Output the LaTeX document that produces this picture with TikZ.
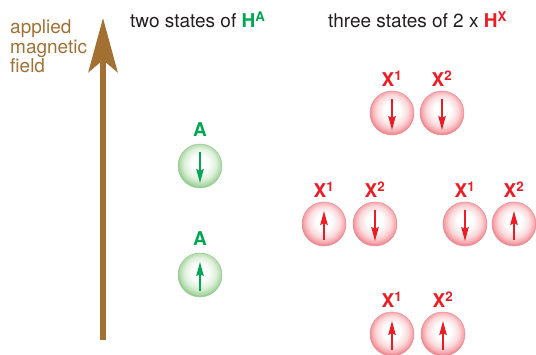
\documentclass[tikz,border=0pt]{standalone}
\usepackage{fontspec}
\setmainfont{TeX Gyre Heros}
\usetikzlibrary{arrows.meta, positioning}
\definecolor{brown}{RGB}{163, 112, 52}
\definecolor{green}{RGB}{0, 166, 81}
\definecolor{red}{RGB}{237, 28, 36}
\definecolor{ink}{RGB}{35, 31, 32}
\definecolor{ballgreen}{RGB}{172, 216, 166}
\definecolor{rimgreen}{RGB}{150, 205, 146}
\definecolor{ballred}{RGB}{245, 160, 166}
\definecolor{rimred}{RGB}{238, 138, 146}
\pgfdeclareradialshading{shadeA}{\pgfpoint{0bp}{4bp}}{color(0bp)=(white); color(9bp)=(white); color(18bp)=(ballgreen!40!white); color(24bp)=(ballgreen); color(25bp)=(rimgreen); color(50bp)=(rimgreen)}
\pgfdeclareradialshading{shadeX}{\pgfpoint{0bp}{4bp}}{color(0bp)=(white); color(9bp)=(white); color(18bp)=(ballred!40!white); color(24bp)=(ballred); color(25bp)=(rimred); color(50bp)=(rimred)}
\tikzset{
  ball/.style={
    circle, minimum size=44pt, inner sep=0pt, line width=0.5pt
  },
  ballA/.style={ball, draw=rimgreen, shade, shading=shadeA},
  ballX/.style={ball, draw=rimred, shade, shading=shadeX},
  spinA/.style={-{Stealth[length=14pt, width=7.5pt, inset=2pt]}, line width=1.4pt, green},
  spinX/.style={-{Stealth[length=14pt, width=7.5pt, inset=2pt]}, line width=1.4pt, red},
  labA/.style={font=\fontsize{19}{19}\selectfont\bfseries, text=green, inner sep=0pt},
  labX/.style={font=\fontsize{19}{19}\selectfont\bfseries, text=red, inner sep=0pt},
  title/.style={font=\fontsize{19}{19}\selectfont, text=ink, inner sep=0pt, anchor=base west},
  field/.style={-{Stealth[length=54pt, width=29pt, inset=12pt]}, line width=6.5pt, brown},
}

\begin{document}
\begin{tikzpicture}[x=1pt, y=-1pt]

\useasboundingbox (0,0) rectangle (536,355);

\coordinate (fieldbase) at (103,340);
\coordinate (fieldtip) at (103,18);
\draw[field] (fieldbase) -- (fieldtip);

\node[font=\fontsize{19}{19.5}\selectfont, text=brown, align=left,
  anchor=north west, inner sep=0pt] (fieldtext) at (10,19.5)
{
    applied\\
    magnetic\\
    field
};

\node[title] (titleA) at (130,28)
{two states of {\bfseries\color{green}H\textsuperscript{A}}};

\node[title] (titleX) at (328,28)
{three states of 2 x {\bfseries\color{red}H\textsuperscript{X}}};

% nucleus A
\node[ballA] (aDown) at (200,166) {};
\node[ballA] (aUp) at (200,275) {};
\node[labA, above=7pt of aDown] {A};
\node[labA, above=7pt of aUp] {A};
\draw[spinA] ([yshift=14pt]aDown.center) -- ([yshift=-17pt]aDown.center);
\draw[spinA] ([yshift=-16pt]aUp.center) -- ([yshift=13pt]aUp.center);

% two nuclei X
\node[ballX] (xTopOne) at (392,113) {};
\node[ballX] (xTopTwo) at (442,113) {};
\node[ballX] (xMidOne) at (324,224) {};
\node[ballX] (xMidTwo) at (375,224) {};
\node[ballX] (xRightOne) at (465,224) {};
\node[ballX] (xRightTwo) at (514,224) {};
\node[ballX] (xLowOne) at (392,334) {};
\node[ballX] (xLowTwo) at (443,334) {};

\foreach \n/\k in {xTopOne/1, xTopTwo/2, xMidOne/1, xMidTwo/2,
                   xRightOne/1, xRightTwo/2, xLowOne/1, xLowTwo/2}
  \node[labX, above=4pt of \n] {X\textsuperscript{\k}};

\foreach \n in {xTopOne, xTopTwo, xMidTwo, xRightOne}
  \draw[spinX] ([yshift=14pt]\n.center) -- ([yshift=-17pt]\n.center);
\foreach \n in {xMidOne, xRightTwo, xLowOne, xLowTwo}
  \draw[spinX] ([yshift=-16pt]\n.center) -- ([yshift=13pt]\n.center);

\end{tikzpicture}
\end{document}
